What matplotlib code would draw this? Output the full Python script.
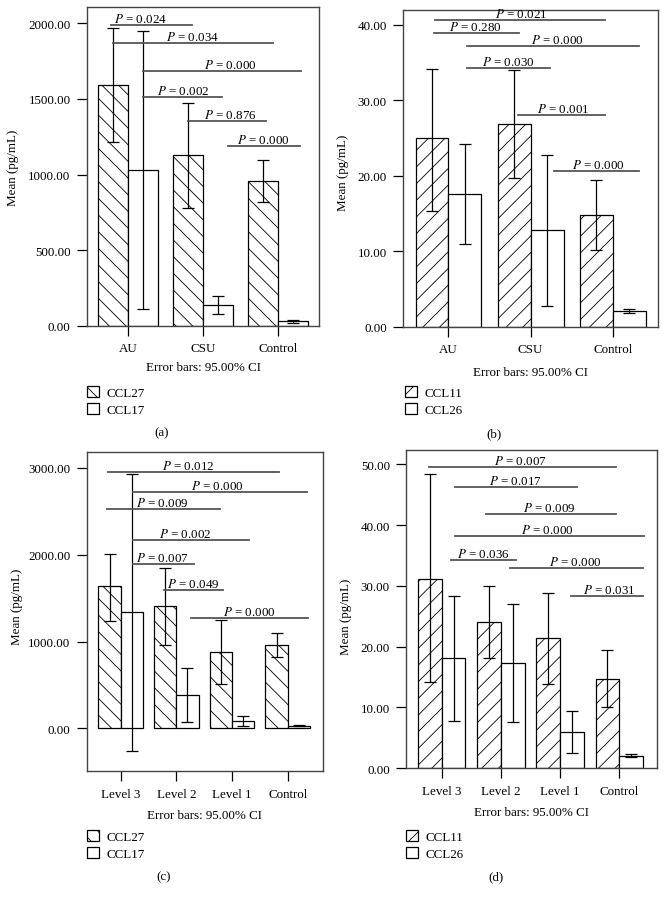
import numpy as np
import matplotlib
matplotlib.use('Agg')
import matplotlib.pyplot as plt

plt.rcParams['font.family'] = ['Liberation Serif', 'DejaVu Serif']
plt.rcParams['mathtext.fontset'] = 'stix'
plt.rcParams['font.size'] = 9.4
plt.rcParams['hatch.linewidth'] = 0.6

# ---- data ----
groups_ab = ['AU', 'CSU', 'Control']
groups_cd = ['Level 3', 'Level 2', 'Level 1', 'Control']

# (a) CCL27 / CCL17 by diagnosis
a_ccl27 = [1590, 1127, 955]
a_ccl27_lo = [1213, 778, 816]
a_ccl27_hi = [1971, 1471, 1096]
a_ccl17 = [1030, 137, 29]
a_ccl17_lo = [110, 77, 18]
a_ccl17_hi = [1947, 194, 38]
a_pvals = ['0.024', '0.034', '0.000', '0.002', '0.876', '0.000']

# (b) CCL11 / CCL26 by diagnosis
b_ccl11 = [25.0, 26.85, 14.8]
b_ccl11_lo = [15.3, 19.7, 10.15]
b_ccl11_hi = [34.1, 34.0, 19.5]
b_ccl26 = [17.6, 12.8, 2.05]
b_ccl26_lo = [10.95, 2.7, 1.75]
b_ccl26_hi = [24.2, 22.7, 2.4]
b_pvals = ['0.021', '0.280', '0.000', '0.030', '0.001', '0.000']

# (c) CCL27 / CCL17 by severity
c_ccl27 = [1636, 1406, 876, 956]
c_ccl27_lo = [1240, 963, 510, 818]
c_ccl27_hi = [2012, 1850, 1248, 1098]
c_ccl17 = [1336, 384, 80, 30]
c_ccl17_lo = [-262, 76, 23, 22]
c_ccl17_hi = [2930, 691, 138, 38]
c_pvals = ['0.012', '0.000', '0.009', '0.002', '0.007', '0.049', '0.000']

# (d) CCL11 / CCL26 by severity
d_ccl11 = [31.2, 24.05, 21.4, 14.7]
d_ccl11_lo = [14.2, 18.1, 13.8, 10.05]
d_ccl11_hi = [48.4, 30.0, 28.9, 19.4]
d_ccl26 = [18.1, 17.3, 5.9, 2.08]
d_ccl26_lo = [7.85, 7.6, 2.5, 1.9]
d_ccl26_hi = [28.4, 26.95, 9.5, 2.3]
d_pvals = ['0.007', '0.017', '0.009', '0.000', '0.036', '0.000', '0.031']

# bracket layout for the p-value lines: (x start, x end, height, text x)
a_brackets = [(-0.23, 0.85, 1991, 0.16), (-0.2, 1.93, 1872, 0.86), (0.2, 2.31, 1683, 1.37),
              (0.2, 1.26, 1515, 0.74), (0.8, 1.84, 1352, 1.36), (1.34, 2.30, 1190, 1.81)]
b_brackets = [(-0.17, 1.91, 40.6, 0.89), (-0.18, 0.86, 38.86, 0.32), (0.23, 2.32, 37.18, 1.32),
              (0.23, 1.24, 34.3, 0.73), (0.85, 1.91, 28.0, 1.39), (1.29, 2.32, 20.58, 1.82)]
c_brackets = [(-0.23, 2.85, 2956, 1.22), (0.23, 3.34, 2726, 1.73), (-0.25, 1.78, 2526, 0.74),
              (0.23, 2.30, 2173, 1.15), (0.23, 1.32, 1889, 0.74), (0.77, 1.84, 1590, 1.31),
              (1.26, 3.36, 1271, 2.31)]
d_brackets = [(-0.21, 2.94, 49.5, 1.32), (0.23, 2.29, 46.2, 1.25), (0.75, 2.94, 41.9, 1.81),
              (0.23, 3.42, 38.2, 1.79), (0.15, 1.25, 34.2, 0.71), (1.15, 3.41, 32.95, 2.26),
              (2.19, 3.41, 28.4, 2.83)]

W, H = 666, 903
fig = plt.figure(figsize=(W / 100, H / 100), dpi=100)


def px_rect(l, r, t, b):
    #pixel box -> figure fraction rectangle
    return [l / W, 1 - b / H, (r - l) / W, (b - t) / H]


def draw_panel(rect, groups, m1, lo1, hi1, m2, lo2, hi2, names, hatch, pvals, brackets,
               xlim, ylim, yticks, ylab_xy, xlab_y, leg_xy, tag, tag_xy):
    ax = fig.add_axes(rect)
    x = np.arange(len(groups))
    m1, lo1, hi1 = map(np.asarray, (m1, lo1, hi1))
    m2, lo2, hi2 = map(np.asarray, (m2, lo2, hi2))
    b1 = ax.bar(x - 0.2, m1, 0.4, facecolor='white', edgecolor='black', hatch=hatch, lw=0.9, zorder=2)
    b2 = ax.bar(x + 0.2, m2, 0.4, facecolor='white', edgecolor='black', lw=0.9, zorder=2)
    ax.errorbar(x - 0.2, m1, yerr=[m1 - lo1, hi1 - m1], fmt='none', ecolor='black',
                elinewidth=0.9, capsize=4.5, capthick=0.9, zorder=3)
    ax.errorbar(x + 0.2, m2, yerr=[m2 - lo2, hi2 - m2], fmt='none', ecolor='black',
                elinewidth=0.9, capsize=4.5, capthick=0.9, zorder=3)
    for (x0, x1, y, tx), p in zip(brackets, pvals):
        ax.plot([x0, x1], [y, y], color='#555555', lw=1.3, zorder=4)
        ax.annotate('$P$ = ' + p, xy=(tx, y), xytext=(0, 4.7), textcoords='offset points',
                    ha='center', va='center', zorder=5)
    ax.set_xlim(*xlim)
    ax.set_ylim(*ylim)
    ax.set_xticks(x)
    ax.set_xticklabels(groups)
    ax.set_yticks(yticks)
    ax.set_yticklabels(['%.2f' % v for v in yticks])
    ax.tick_params(direction='out', length=7.5, width=0.9, pad=4.3)
    for s in ax.spines.values():
        s.set_color('#444444')
        s.set_linewidth(1.0)
    ax.set_ylabel('Mean (pg/mL)', va='center')
    ax.yaxis.set_label_coords(*ylab_xy)
    ax.set_xlabel('Error bars: 95.00% CI', va='center')
    ax.xaxis.set_label_coords(0.5, xlab_y)
    fig.legend([b1, b2], names, loc='upper left', bbox_to_anchor=(leg_xy[0] / W, 1 - leg_xy[1] / H),
               frameon=False, borderpad=0, borderaxespad=0, handlelength=0.93, handleheight=0.93,
               handletextpad=0.62, labelspacing=0.32)
    fig.text(tag_xy[0] / W, 1 - tag_xy[1] / H, tag, ha='center', va='center')
    return ax


draw_panel(px_rect(87, 319, 8, 326.7), groups_ab, a_ccl27, a_ccl27_lo, a_ccl27_hi,
           a_ccl17, a_ccl17_lo, a_ccl17_hi, ['CCL27', 'CCL17'], '\\\\', a_pvals, a_brackets,
           (-0.55, 2.55), (0, 2108), [0, 500, 1000, 1500, 2000], (-0.32, 0.5), -0.13,
           (86.7, 386.5), '(a)', (162, 433))

draw_panel(px_rect(403.3, 658, 10.7, 327.7), groups_ab, b_ccl11, b_ccl11_lo, b_ccl11_hi,
           b_ccl26, b_ccl26_lo, b_ccl26_hi, ['CCL11', 'CCL26'], '//', b_pvals, b_brackets,
           (-0.55, 2.55), (0, 42), [0, 10, 20, 30, 40], (-0.237, 0.49), -0.142,
           (404.7, 386.5), '(b)', (494, 434))

draw_panel(px_rect(87, 322.7, 453.3, 772.3), groups_cd, c_ccl27, c_ccl27_lo, c_ccl27_hi,
           c_ccl17, c_ccl17_lo, c_ccl17_hi, ['CCL27', 'CCL17'], '\\\\', c_pvals, c_brackets,
           (-0.605, 3.63), (-495, 3180), [0, 1000, 2000, 3000], (-0.297, 0.52), -0.136,
           (86.7, 831), '(c)', (164, 877))

draw_panel(px_rect(406.3, 657.3, 450.7, 769.3), groups_cd, d_ccl11, d_ccl11_lo, d_ccl11_hi,
           d_ccl26, d_ccl26_lo, d_ccl26_hi, ['CCL11', 'CCL26'], '//', d_pvals, d_brackets,
           (-0.6, 3.645), (0, 52.4), [0, 10, 20, 30, 40, 50], (-0.24, 0.478), -0.138,
           (405.7, 830.5), '(d)', (496, 877))

fig.savefig('out.png', dpi=100)
